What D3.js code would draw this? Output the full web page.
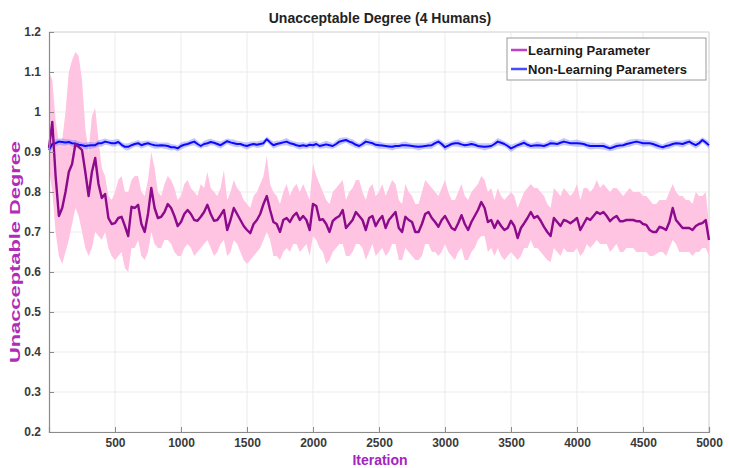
<!DOCTYPE html>
<html>
<head>
<meta charset="utf-8">
<script src="https://cdn.jsdelivr.net/npm/d3@7/dist/d3.min.js"></script>
<style>
  html, body { margin: 0; padding: 0; background: #fff; }
  svg { display: block; font-family: "Liberation Sans", Arial, sans-serif; }
</style>
</head>
<body>
<svg id="chart" width="729" height="468"></svg>
<script>
// Iterations sampled every 25 steps
const iterations = d3.range(0, 5001, 25);

// Learning parameter: mean curve with its upper / lower band
const learnMean = [
  0.91, 0.975, 0.84, 0.74, 0.76, 0.80, 0.85, 0.87, 0.92, 0.913,
  0.905, 0.85, 0.79, 0.85, 0.885, 0.82, 0.785, 0.795, 0.735, 0.72,
  0.722, 0.735, 0.738, 0.715, 0.69, 0.763, 0.76, 0.768, 0.72, 0.70,
  0.745, 0.81, 0.76, 0.735, 0.738, 0.75, 0.77, 0.76, 0.74, 0.715,
  0.725, 0.745, 0.755, 0.745, 0.73, 0.728, 0.738, 0.75, 0.768, 0.745,
  0.728, 0.73, 0.742, 0.755, 0.705, 0.73, 0.76, 0.745, 0.73, 0.715,
  0.705, 0.697, 0.72, 0.73, 0.745, 0.77, 0.79, 0.755, 0.725, 0.72,
  0.70, 0.73, 0.735, 0.725, 0.74, 0.748, 0.73, 0.74, 0.73, 0.705,
  0.77, 0.765, 0.73, 0.732, 0.72, 0.70, 0.728, 0.735, 0.74, 0.755,
  0.71, 0.72, 0.73, 0.75, 0.74, 0.73, 0.705, 0.735, 0.74, 0.715,
  0.73, 0.74, 0.71, 0.73, 0.74, 0.75, 0.71, 0.70, 0.738, 0.73,
  0.725, 0.70, 0.70, 0.72, 0.745, 0.75, 0.735, 0.725, 0.713, 0.73,
  0.74, 0.725, 0.71, 0.705, 0.722, 0.742, 0.72, 0.705, 0.725, 0.74,
  0.755, 0.775, 0.76, 0.725, 0.73, 0.71, 0.728, 0.715, 0.705, 0.71,
  0.728, 0.715, 0.685, 0.71, 0.722, 0.735, 0.75, 0.735, 0.74, 0.728,
  0.713, 0.70, 0.69, 0.735, 0.725, 0.715, 0.73, 0.727, 0.722, 0.728,
  0.735, 0.705, 0.72, 0.735, 0.73, 0.74, 0.75, 0.745, 0.75, 0.74,
  0.727, 0.735, 0.74, 0.727, 0.727, 0.73, 0.73, 0.73, 0.727, 0.727,
  0.72, 0.718, 0.705, 0.70, 0.70, 0.713, 0.71, 0.705, 0.725, 0.76,
  0.73, 0.72, 0.71, 0.71, 0.71, 0.705, 0.715, 0.72, 0.722, 0.73,
  0.68
];
const learnHigh = [
  1.10, 1.08, 0.98, 0.92, 0.93, 1.00, 1.10, 1.13, 1.15, 1.14,
  1.08, 0.96, 0.90, 0.99, 1.01, 0.93, 0.86, 0.84, 0.79, 0.78,
  0.80, 0.83, 0.84, 0.80, 0.80, 0.83, 0.84, 0.84, 0.80, 0.79,
  0.83, 0.90, 0.86, 0.80, 0.79, 0.82, 0.84, 0.83, 0.81, 0.78,
  0.79, 0.82, 0.83, 0.81, 0.80, 0.79, 0.82, 0.81, 0.85, 0.81,
  0.80, 0.79, 0.81, 0.855, 0.78, 0.80, 0.83, 0.81, 0.80, 0.78,
  0.77, 0.76, 0.79, 0.80, 0.82, 0.84, 0.89, 0.82, 0.80, 0.79,
  0.77, 0.80, 0.82, 0.79, 0.81, 0.82, 0.80, 0.82, 0.80, 0.78,
  0.87, 0.84, 0.82, 0.80, 0.78, 0.77, 0.80, 0.81, 0.82, 0.83,
  0.78, 0.80, 0.81, 0.83, 0.83, 0.80, 0.78, 0.81, 0.82, 0.79,
  0.80, 0.82, 0.79, 0.81, 0.83, 0.82, 0.78, 0.77, 0.82, 0.80,
  0.79, 0.77, 0.77, 0.80, 0.83, 0.82, 0.81, 0.80, 0.79, 0.81,
  0.83, 0.80, 0.78, 0.78, 0.80, 0.82, 0.79, 0.78, 0.80, 0.81,
  0.82, 0.84, 0.83, 0.80, 0.81, 0.78, 0.81, 0.79, 0.78, 0.79,
  0.80, 0.79, 0.76, 0.78, 0.80, 0.81, 0.82, 0.81, 0.81, 0.80,
  0.79, 0.77, 0.76, 0.81, 0.80, 0.79, 0.81, 0.80, 0.79, 0.80,
  0.82, 0.78, 0.81, 0.81, 0.80, 0.81, 0.83, 0.81, 0.82, 0.81,
  0.80, 0.81, 0.81, 0.80, 0.79, 0.80, 0.81, 0.80, 0.80, 0.80,
  0.79, 0.79, 0.78, 0.77, 0.77, 0.78, 0.78, 0.78, 0.80, 0.82,
  0.80, 0.79, 0.79, 0.78, 0.78, 0.77, 0.80, 0.79, 0.79, 0.80,
  0.72
];
const learnLow = [
  0.86, 0.80, 0.70, 0.64, 0.62, 0.65, 0.68, 0.72, 0.76, 0.74,
  0.70, 0.66, 0.64, 0.66, 0.70, 0.69, 0.68, 0.70, 0.66, 0.64,
  0.63, 0.64, 0.65, 0.61, 0.60, 0.66, 0.66, 0.68, 0.64, 0.63,
  0.65, 0.70, 0.67, 0.66, 0.66, 0.68, 0.68, 0.67, 0.65, 0.64,
  0.64, 0.66, 0.67, 0.66, 0.64, 0.65, 0.66, 0.67, 0.68, 0.66,
  0.64, 0.65, 0.67, 0.68, 0.64, 0.65, 0.68, 0.67, 0.65, 0.63,
  0.62, 0.63, 0.64, 0.65, 0.66, 0.68, 0.70, 0.68, 0.64, 0.64,
  0.63, 0.65, 0.66, 0.65, 0.67, 0.67, 0.65, 0.66, 0.67, 0.64,
  0.69, 0.68, 0.66, 0.65, 0.62, 0.63, 0.65, 0.66, 0.67, 0.67,
  0.64, 0.64, 0.65, 0.67, 0.67, 0.66, 0.63, 0.65, 0.67, 0.64,
  0.65, 0.66, 0.64, 0.65, 0.67, 0.67, 0.63, 0.63, 0.66, 0.65,
  0.64, 0.63, 0.63, 0.64, 0.67, 0.67, 0.65, 0.65, 0.64, 0.65,
  0.67, 0.65, 0.64, 0.63, 0.65, 0.66, 0.63, 0.63, 0.65, 0.66,
  0.68, 0.69, 0.69, 0.65, 0.66, 0.64, 0.66, 0.64, 0.63, 0.64,
  0.65, 0.64, 0.63, 0.64, 0.66, 0.66, 0.68, 0.66, 0.66, 0.65,
  0.64, 0.63, 0.625, 0.66, 0.65, 0.64, 0.66, 0.65, 0.65, 0.65,
  0.66, 0.64, 0.65, 0.67, 0.66, 0.67, 0.68, 0.67, 0.67, 0.67,
  0.65, 0.66, 0.67, 0.65, 0.65, 0.66, 0.66, 0.66, 0.65, 0.65,
  0.65, 0.65, 0.64, 0.64, 0.645, 0.65, 0.65, 0.64, 0.66, 0.68,
  0.67, 0.65, 0.65, 0.65, 0.65, 0.64, 0.65, 0.65, 0.66, 0.66,
  0.64
];

// Non-learning parameters: mean curve and half-width of its band
const baseMean = [
  0.905, 0.92, 0.922, 0.926, 0.925, 0.924, 0.925, 0.922, 0.921, 0.918,
  0.917, 0.915, 0.916, 0.917, 0.917, 0.922, 0.922, 0.926, 0.924, 0.922,
  0.922, 0.925, 0.918, 0.913, 0.913, 0.917, 0.92, 0.922, 0.917, 0.92,
  0.922, 0.919, 0.917, 0.916, 0.917, 0.916, 0.915, 0.912, 0.912, 0.909,
  0.915, 0.918, 0.92, 0.923, 0.926, 0.92, 0.915, 0.92, 0.922, 0.925,
  0.923, 0.92, 0.917, 0.922, 0.927, 0.924, 0.922, 0.92, 0.92, 0.917,
  0.915, 0.918, 0.92, 0.918, 0.92, 0.922, 0.932, 0.924, 0.917, 0.92,
  0.922, 0.924, 0.926, 0.922, 0.92, 0.917, 0.915, 0.917, 0.915, 0.918,
  0.917, 0.92, 0.915, 0.917, 0.919, 0.917, 0.915, 0.92, 0.926, 0.928,
  0.93, 0.926, 0.923, 0.918, 0.915, 0.92, 0.926, 0.924, 0.922, 0.918,
  0.917, 0.916, 0.915, 0.914, 0.913, 0.915, 0.915, 0.917, 0.917, 0.916,
  0.915, 0.914, 0.913, 0.914, 0.915, 0.916, 0.917, 0.922, 0.926, 0.92,
  0.912, 0.916, 0.92, 0.922, 0.922, 0.919, 0.917, 0.918, 0.92, 0.918,
  0.915, 0.914, 0.913, 0.914, 0.915, 0.92, 0.926, 0.923, 0.92, 0.915,
  0.909, 0.913, 0.917, 0.92, 0.923, 0.918, 0.915, 0.916, 0.917, 0.916,
  0.915, 0.918, 0.922, 0.921, 0.92, 0.923, 0.926, 0.924, 0.922, 0.922,
  0.922, 0.921, 0.92, 0.917, 0.915, 0.915, 0.915, 0.915, 0.915, 0.912,
  0.909, 0.912, 0.915, 0.916, 0.917, 0.92, 0.922, 0.924, 0.926, 0.924,
  0.922, 0.922, 0.922, 0.92, 0.917, 0.914, 0.912, 0.915, 0.917, 0.92,
  0.922, 0.921, 0.92, 0.923, 0.926, 0.921, 0.917, 0.922, 0.93, 0.924,
  0.917
];
const baseSpread = [
  0.012, 0.010, 0.009, 0.008, 0.009, 0.008, 0.007, 0.008, 0.009, 0.008,
  0.007, 0.008, 0.009, 0.008, 0.007, 0.008, 0.009, 0.008, 0.007, 0.008,
  0.009, 0.008, 0.007, 0.008, 0.009, 0.008, 0.007, 0.008, 0.009, 0.008,
  0.007, 0.008, 0.009, 0.008, 0.007, 0.008, 0.009, 0.008, 0.007, 0.008,
  0.009, 0.008, 0.007, 0.008, 0.009, 0.008, 0.007, 0.008, 0.009, 0.008,
  0.007, 0.008, 0.009, 0.008, 0.007, 0.008, 0.009, 0.008, 0.007, 0.008,
  0.009, 0.008, 0.007, 0.008, 0.009, 0.008, 0.007, 0.008, 0.009, 0.008,
  0.007, 0.008, 0.009, 0.008, 0.007, 0.008, 0.009, 0.008, 0.007, 0.008,
  0.009, 0.008, 0.007, 0.008, 0.009, 0.008, 0.007, 0.008, 0.009, 0.008,
  0.007, 0.008, 0.009, 0.008, 0.007, 0.008, 0.009, 0.008, 0.007, 0.008,
  0.009, 0.008, 0.007, 0.008, 0.009, 0.008, 0.007, 0.008, 0.009, 0.008,
  0.007, 0.008, 0.009, 0.008, 0.007, 0.008, 0.009, 0.008, 0.007, 0.008,
  0.009, 0.008, 0.007, 0.008, 0.009, 0.008, 0.007, 0.008, 0.009, 0.008,
  0.007, 0.008, 0.009, 0.008, 0.007, 0.008, 0.009, 0.008, 0.007, 0.008,
  0.009, 0.008, 0.007, 0.008, 0.009, 0.008, 0.007, 0.008, 0.009, 0.008,
  0.007, 0.008, 0.009, 0.008, 0.007, 0.008, 0.009, 0.008, 0.007, 0.008,
  0.009, 0.008, 0.007, 0.008, 0.009, 0.008, 0.007, 0.008, 0.009, 0.008,
  0.007, 0.008, 0.009, 0.008, 0.007, 0.008, 0.009, 0.008, 0.007, 0.008,
  0.009, 0.008, 0.007, 0.008, 0.009, 0.008, 0.007, 0.008, 0.009, 0.008,
  0.007, 0.008, 0.009, 0.008, 0.007, 0.008, 0.009, 0.008, 0.007, 0.008,
  0.009
];

const xTicks = [500, 1000, 1500, 2000, 2500, 3000, 3500, 4000, 4500, 5000];
const yTicks = [0.2, 0.3, 0.4, 0.5, 0.6, 0.7, 0.8, 0.9, 1, 1.1, 1.2];
const seriesNames = ["Learning Parameter", "Non-Learning Parameters"];

const svg = d3.select("#chart");
const margin = { left: 49, right: 20, top: 32, bottom: 36 };
const W = 729, H = 468;
const x = d3.scaleLinear().domain([0, 5000]).range([margin.left, W - margin.right]);
const y = d3.scaleLinear().domain([0.2, 1.2]).range([H - margin.bottom, margin.top]);

// grid
const grid = svg.append("g");
grid.selectAll("line.vx").data(xTicks).join("line")
  .attr("x1", d => x(d)).attr("x2", d => x(d))
  .attr("y1", y(0.2)).attr("y2", y(1.2))
  .attr("stroke", "#ebebeb").attr("stroke-width", 1);
grid.selectAll("line.hy").data(yTicks).join("line")
  .attr("x1", x(0)).attr("x2", x(5000))
  .attr("y1", d => y(d)).attr("y2", d => y(d))
  .attr("stroke", "#ebebeb").attr("stroke-width", 1);

// light top/right frame
svg.append("line").attr("x1", x(0)).attr("x2", x(5000)).attr("y1", y(1.2)).attr("y2", y(1.2))
  .attr("stroke", "#d8d8d8");
svg.append("line").attr("x1", x(5000)).attr("x2", x(5000)).attr("y1", y(1.2)).attr("y2", y(0.2))
  .attr("stroke", "#d8d8d8");

const learnData = iterations.map((it, i) => ({ it, m: learnMean[i], hi: learnHigh[i], lo: learnLow[i] }));
const baseData = iterations.map((it, i) => ({ it, m: baseMean[i], s: baseSpread[i] }));

// bands
svg.append("path").datum(learnData)
  .attr("fill", "#ffc4e1")
  .attr("d", d3.area().x(d => x(d.it)).y0(d => y(d.lo)).y1(d => y(d.hi)));

svg.append("path").datum(baseData)
  .attr("fill", "#7f7fff").attr("fill-opacity", 0.45)
  .attr("d", d3.area().x(d => x(d.it)).y0(d => y(d.m - d.s)).y1(d => y(d.m + d.s)));

// mean lines
svg.append("path").datum(baseData)
  .attr("fill", "none").attr("stroke", "#0a0aff").attr("stroke-width", 2)
  .attr("stroke-linejoin", "round")
  .attr("d", d3.line().x(d => x(d.it)).y(d => y(d.m)));

svg.append("path").datum(learnData)
  .attr("fill", "none").attr("stroke", "#8c0a8c").attr("stroke-width", 2.4)
  .attr("stroke-linejoin", "round")
  .attr("d", d3.line().x(d => x(d.it)).y(d => y(d.m)));

// axes
const xAxis = d3.axisBottom(x).tickValues(xTicks).tickSize(-5).tickPadding(6).tickFormat(d3.format("d"));
const yAxis = d3.axisLeft(y).tickValues(yTicks).tickSize(-5).tickPadding(8).tickFormat(d => d3.format("")(d));

const gx = svg.append("g").attr("transform", `translate(0,${y(0.2)})`).call(xAxis);
const gy = svg.append("g").attr("transform", `translate(${x(0)},0)`).call(yAxis);
[gx, gy].forEach(g => {
  g.select(".domain").attr("stroke", "#8a8a8a").attr("stroke-width", 1.2);
  g.selectAll(".tick line").attr("stroke", "#8a8a8a");
  g.selectAll(".tick text")
    .attr("fill", "#3a3a3a")
    .style("font-size", "12px")
    .style("font-weight", "bold")
    .style("font-family", "'Liberation Sans', Arial, sans-serif");
});

// title and axis labels
svg.append("text")
  .attr("x", 380).attr("y", 23)
  .attr("text-anchor", "middle")
  .style("font-size", "14px").style("font-weight", "bold")
  .attr("fill", "#222")
  .text("Unacceptable Degree (4 Humans)");

svg.append("text")
  .attr("transform", `translate(20,${(y(0.2) + y(1.2)) / 2 + 20}) rotate(-90)`)
  .attr("text-anchor", "middle")
  .attr("textLength", 222).attr("lengthAdjust", "spacingAndGlyphs")
  .style("font-size", "14px").style("font-weight", "bold")
  .attr("fill", "#b02cb8")
  .text("Unacceptable Degree");

svg.append("text")
  .attr("x", 380).attr("y", 465)
  .attr("text-anchor", "middle")
  .style("font-size", "14px").style("font-weight", "bold")
  .attr("fill", "#a424c0")
  .text("Iteration");

// legend
const legendColors = ["#c040c8", "#4a4aff"];
const lg = svg.append("g").attr("transform", "translate(507,38)");
lg.append("rect").attr("width", 199).attr("height", 42)
  .attr("fill", "#fff").attr("stroke", "#9a9a9a").attr("stroke-width", 1);
seriesNames.forEach((name, i) => {
  const cy = 12 + i * 19;
  lg.append("line").attr("x1", 4).attr("x2", 20).attr("y1", cy).attr("y2", cy)
    .attr("stroke", legendColors[i]).attr("stroke-width", 2.5);
  lg.append("text").attr("x", 21).attr("y", cy + 5)
    .style("font-size", "13px").style("font-weight", "bold")
    .attr("fill", "#1a1a1a")
    .text(name);
});
</script>
</body>
</html>
